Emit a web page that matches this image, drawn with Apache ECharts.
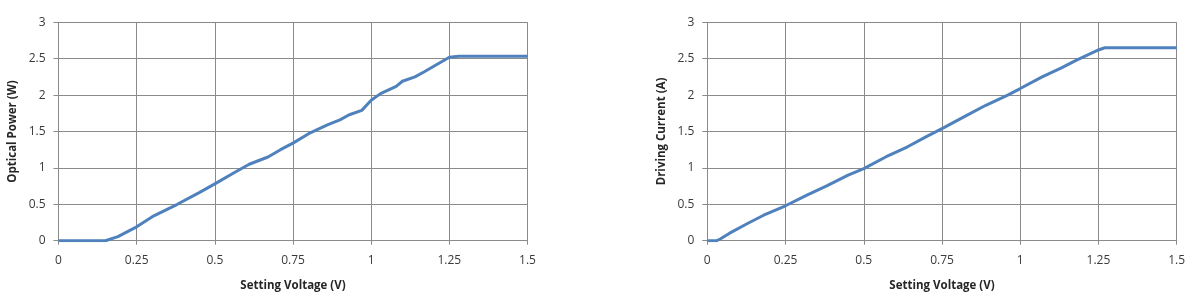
<!DOCTYPE html>
<html>
<head>
<meta charset="utf-8">
<script src="https://cdn.jsdelivr.net/npm/echarts@6/dist/echarts.min.js"></script>
<style>
  html, body { margin: 0; padding: 0; background: #fff; }
  #chart { width: 1203px; height: 300px; }
</style>
</head>
<body>
<div id="chart"></div>
<script>
// 光功率曲线
const voltageP = [0, 0.15, 0.19, 0.25, 0.30, 0.38, 0.45, 0.50, 0.56, 0.61, 0.67, 0.71, 0.75, 0.80, 0.86, 0.90, 0.93, 0.97, 1.00, 1.03, 1.08, 1.10, 1.14, 1.17, 1.21, 1.25, 1.28, 1.5];
const powerW   = [0, 0, 0.055, 0.19, 0.33, 0.50, 0.66, 0.78, 0.93, 1.05, 1.15, 1.25, 1.34, 1.47, 1.59, 1.66, 1.73, 1.79, 1.93, 2.02, 2.12, 2.19, 2.25, 2.32, 2.42, 2.52, 2.535, 2.535];

// 驱动电流曲线
const voltageI = [0, 0.03, 0.04, 0.07, 0.13, 0.18, 0.25, 0.32, 0.38, 0.45, 0.50, 0.57, 0.64, 0.70, 0.75, 0.82, 0.89, 0.96, 1.00, 1.07, 1.13, 1.18, 1.25, 1.27, 1.5];
const currentA = [0, 0, 0.02, 0.10, 0.24, 0.35, 0.48, 0.63, 0.75, 0.90, 0.99, 1.15, 1.29, 1.43, 1.54, 1.70, 1.86, 2.00, 2.09, 2.25, 2.37, 2.48, 2.62, 2.65, 2.65];

const xTitle = "Setting Voltage (V)";
const yTitles = ["Optical Power (W)", "Driving Current (A)"];

const gridColor = "#8a8a8a";
const labelStyle = { color: "#3a3a3a", fontSize: 12, fontFamily: "Open Sans" };
const nameStyle = { color: "#262626", fontSize: 11.5, fontWeight: "bold", fontFamily: "Open Sans" };

function xAxisFor(idx) {
  return {
    gridIndex: idx,
    type: "value",
    min: 0, max: 1.5, interval: 0.25,
    name: xTitle,
    nameLocation: "middle",
    nameGap: 39,
    nameTextStyle: nameStyle,
    axisLine: { show: true, lineStyle: { color: gridColor, width: 1 } },
    axisTick: { show: true, length: 4, lineStyle: { color: gridColor } },
    axisLabel: Object.assign({ margin: 14 }, labelStyle),
    splitLine: { show: true, lineStyle: { color: gridColor, width: 1 } },
  };
}
function yAxisFor(idx) {
  return {
    gridIndex: idx,
    type: "value",
    min: 0, max: 3, interval: 0.5,
    name: yTitles[idx],
    nameLocation: "middle",
    nameRotate: 90,
    nameGap: 40,
    nameTextStyle: nameStyle,
    axisLine: { show: true, lineStyle: { color: gridColor, width: 1 } },
    axisTick: { show: true, length: 5, lineStyle: { color: gridColor } },
    axisLabel: Object.assign({ margin: 13 }, labelStyle),
    splitLine: { show: true, lineStyle: { color: gridColor, width: 1 } },
  };
}

const lineStyle = { color: "#4f81bd", width: 3 };

const option = {
  animation: false,
  grid: [
    { left: 58.5, right: 675.5, top: 22.3, bottom: 59.3 },
    { left: 707.3, right: 26.3, top: 22.3, bottom: 59.3 },
  ],
  xAxis: [xAxisFor(0), xAxisFor(1)],
  yAxis: [yAxisFor(0), yAxisFor(1)],
  series: [
    {
      type: "line", xAxisIndex: 0, yAxisIndex: 0,
      data: voltageP.map((v, i) => [v, powerW[i]]),
      showSymbol: false, symbol: "none",
      lineStyle: lineStyle, itemStyle: { color: "#4f81bd" },
    },
    {
      type: "line", xAxisIndex: 1, yAxisIndex: 1,
      data: voltageI.map((v, i) => [v, currentA[i]]),
      showSymbol: false, symbol: "none",
      lineStyle: lineStyle, itemStyle: { color: "#4f81bd" },
    },
  ],
};

echarts.init(document.getElementById("chart")).setOption(option);
</script>
</body>
</html>
